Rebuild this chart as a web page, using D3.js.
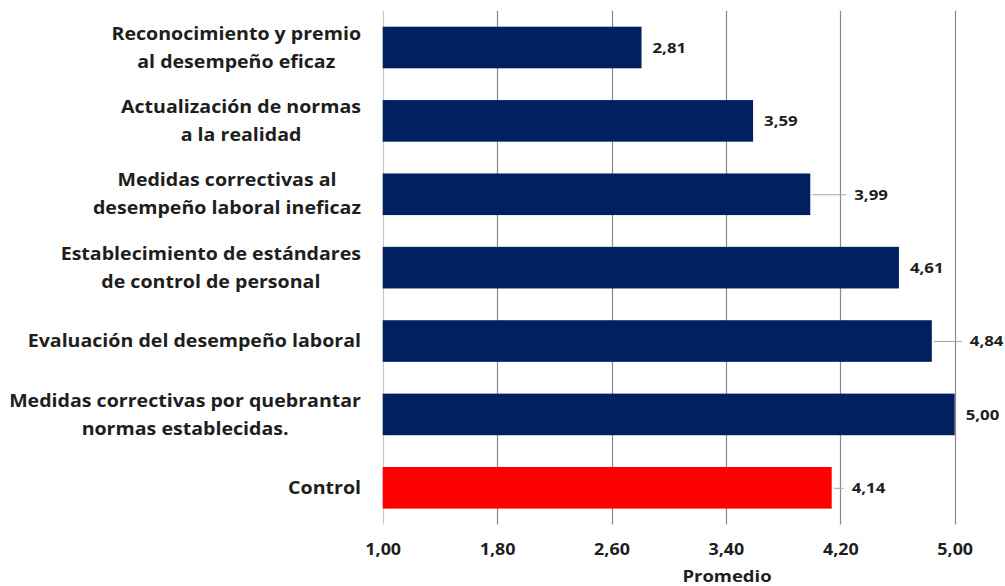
<!DOCTYPE html>
<html>
<head>
<meta charset="utf-8">
<script src="https://cdn.jsdelivr.net/npm/d3@7"></script>
<style>
  html, body { margin: 0; padding: 0; background: #fff; }
  svg { display: block; }
  text { font-family: "Open Sans", Lato, sans-serif; fill: #1e1e1e; font-weight: 700; }
</style>
</head>
<body>
<svg id="chart" width="1005" height="586"></svg>
<script>
const categories = [
  "Reconocimiento y premio\nal desempeño eficaz",
  "Actualización de normas\na la realidad",
  "Medidas correctivas al\ndesempeño laboral ineficaz",
  "Establecimiento de estándares\nde control de personal",
  "Evaluación del desempeño laboral",
  "Medidas correctivas por quebrantar\nnormas establecidas.",
  "Control"
];
const values = [2.81, 3.59, 3.99, 4.61, 4.84, 5.00, 4.14];
const highlighted = [false, false, false, false, false, false, true];
const tickValues = [1.00, 1.80, 2.60, 3.40, 4.20, 5.00];
const axisTitle = "Promedio";

// layout constants (not data): extra label shift where a leader line is drawn
const leaderShift = [0, 0, 33, 0, 27, 0, 9];
const SX = 1.12; // horizontal text stretch to mimic the reference face
const fmt = v => d3.format(".2f")(v).replace(".", ",");

const svg = d3.select("#chart");
const plotLeft = 382.7, plotRight = 954.7, plotTop = 10.8, plotBottom = 524.5;

const x = d3.scaleLinear().domain([1, 5]).range([plotLeft, plotRight]);
const y = d3.scaleBand().domain(d3.range(categories.length))
  .range([plotTop, plotBottom]).paddingInner(0.433).paddingOuter(0.2165);

// gridlines
svg.append("g").selectAll("line").data(tickValues).join("line")
  .attr("x1", d => Math.round(x(d)) + 0.5).attr("x2", d => Math.round(x(d)) + 0.5)
  .attr("y1", plotTop).attr("y2", plotBottom)
  .attr("stroke", (d, i) => i === 0 ? "#c8c8c8" : "#8a8a8a").attr("stroke-width", 1.2);

// x axis tick labels
const xAxis = d3.axisBottom(x).tickValues(tickValues).tickFormat(fmt).tickSize(0).tickPadding(0);
const gx = svg.append("g").attr("transform", `translate(0,${plotBottom + 25})`).call(xAxis);
gx.select(".domain").remove();
gx.selectAll("text").attr("font-size", 16).attr("font-family", "'Open Sans', sans-serif")
  .attr("fill", "#1e1e1e").attr("dy", "0.35em").attr("font-weight", 700)
  .attr("transform", `scale(${SX},1)`).attr("y", 0);

// axis title
svg.append("text").attr("transform", `translate(727,582) scale(${SX},1)`)
  .attr("text-anchor", "middle").attr("font-size", 16.5).text(axisTitle);

// bars
svg.append("g").selectAll("rect").data(values).join("rect")
  .attr("x", x(1)).attr("y", (d, i) => y(i))
  .attr("width", d => x(d) - x(1)).attr("height", y.bandwidth())
  .attr("fill", (d, i) => highlighted[i] ? "#ff0000" : "#002060");

// leader lines
const gLead = svg.append("g");
values.forEach((v, i) => {
  if (leaderShift[i] <= 0) return;
  const cy = y(i) + y.bandwidth() / 2 + 0.5;
  gLead.append("line")
    .attr("x1", x(v) + 2).attr("x2", x(v) + 3 + leaderShift[i])
    .attr("y1", cy).attr("y2", cy)
    .attr("stroke", "#a6a6a6").attr("stroke-width", 1);
});

// value labels
svg.append("g").selectAll("text").data(values).join("text")
  .attr("transform", (d, i) => `translate(${x(d) + 11 + leaderShift[i]},${y(i) + y.bandwidth() / 2}) scale(${SX},1)`)
  .attr("dy", "0.35em").attr("font-size", 15).text(d => fmt(d));

// category labels
const labelRight = 361, lineH = 28;
const gl = svg.append("g");
categories.forEach((c, i) => {
  const lines = c.split("\n");
  const cy = y(i) + y.bandwidth() / 2;
  const t = gl.append("text").attr("font-size", 17.5).attr("text-anchor", "middle")
    .attr("transform", `translate(${labelRight},${cy}) scale(${SX},1)`);
  lines.forEach((ln, k) => {
    t.append("tspan").attr("y", (k - (lines.length - 1) / 2) * lineH).attr("dy", "0.35em").text(ln);
  });
  let maxW = 0;
  t.selectAll("tspan").each(function() { maxW = Math.max(maxW, this.getComputedTextLength()); });
  t.selectAll("tspan").attr("x", -maxW / 2);
});
</script>
</body>
</html>
